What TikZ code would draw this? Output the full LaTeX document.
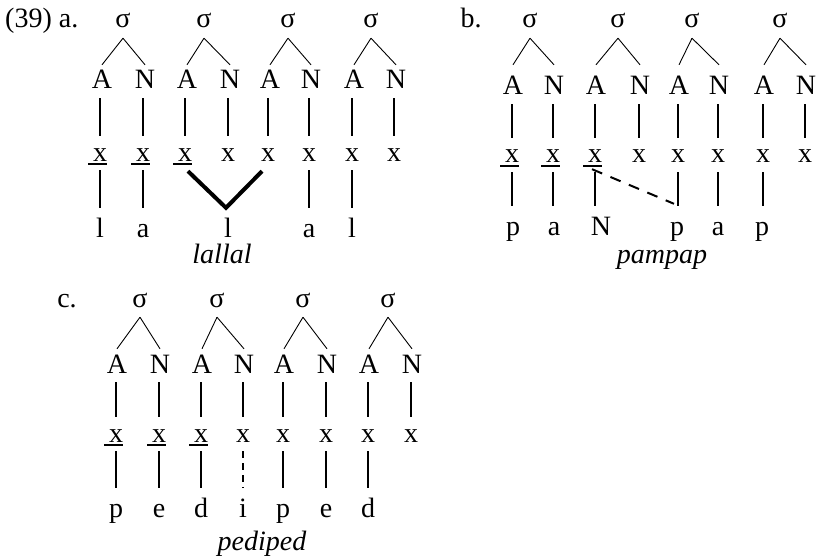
\documentclass[tikz,border=0pt]{standalone}
\usepackage{fontspec}
\setmainfont{Liberation Serif}
\usetikzlibrary{calc}
\begin{document}
\begin{tikzpicture}[x=1pt,y=-1pt,
  every node/.style={inner sep=0pt,anchor=base,font=\fontsize{28}{32}\selectfont},
  sig/.style={text height=14pt,text depth=10pt},
  an/.style={text height=24pt,text depth=9pt},
  anb/.style={text height=30pt,text depth=9pt},
  xx/.style={text height=25pt,text depth=9pt},
  seg/.style={text height=29pt,text depth=5pt},
  word/.style={font=\fontsize{28}{32}\selectfont\itshape},
  tree/.style={line width=0.9pt},
  assoc/.style={line width=2.6pt},
  ul/.style={line width=1.3pt},
  fused/.style={line width=4pt,line join=miter},
  dashb/.style={line width=2pt,dash pattern=on 11pt off 9pt},
  dashc/.style={line width=1.1pt,dash pattern=on 7pt off 5pt}
]
\useasboundingbox (0,0) rectangle (822,559);

% ---------------- panel a ----------------
\node[anchor=base west] (alab) at (5,28) {(39) a.};
\foreach \k/\c in {1/123,2/204,3/288,4/371}
  \node[sig] (aS\k) at (\c,28) {σ};
\foreach \i/\c/\t in {1/100/A,2/143/N,3/185/A,4/228/N,5/268/A,6/309/N,7/352/A,8/394/N}{
  \node[an] (aT\i) at ({\c+2},89) {\t};
  \node[xx] (aX\i) at (\c,161) {x};
  \draw[assoc] (aX\i |- aT\i.south) -- (aX\i.north);
}
\foreach \k/\a/\n in {1/1/2,2/3/4,3/5/6,4/7/8}{
  \draw[tree] (aS\k.south) -- (aT\a.north);
  \draw[tree] (aS\k.south) -- (aT\n.north);
}
\foreach \i in {1,2,3}
  \draw[ul] ($(aX\i.base)+(-12,3)$) -- ($(aX\i.base)+(7,3)$);
\node[seg] (aP1) at (100,237) {l};
\node[seg] (aP2) at (143,237) {a};
\node[seg] (aP3) at (228,237) {l};
\node[seg] (aP4) at (309,237) {a};
\node[seg] (aP5) at (352,237) {l};
\draw[assoc] (aX1.south) -- (aX1.south |- aP1.north);
\draw[assoc] (aX2.south) -- (aX2.south |- aP2.north);
\draw[assoc] (aX6.south) -- (aX6.south |- aP4.north);
\draw[assoc] (aX7.south) -- (aX7.south |- aP5.north);
\draw[fused] ($(aX3.south)+(3,1)$) -- ($(aP3.north)+(-2,0)$) -- ($(aX5.south)+(-6,1)$);
\node[word] (aW) at (222,263) {lallal};

% ---------------- panel b ----------------
\node (blab) at (471,28) {b.};
\foreach \k/\c in {1/530,2/618,3/692,4/780}
  \node[sig] (bS\k) at (\c,28) {σ};
\foreach \i/\c/\t in {1/512/A,2/553/N,3/595/A,4/639/N,5/678/A,6/718/N,7/763/A,8/805/N}{
  \node[anb] (bT\i) at ({\c+1},95) {\t};
  \node[xx] (bX\i) at (\c,163) {x};
  \draw[assoc] (bX\i |- bT\i.south) -- (bX\i.north);
}
\foreach \k/\a/\n in {1/1/2,2/3/4,3/5/6,4/7/8}{
  \draw[tree] (bS\k.south) -- (bT\a.north);
  \draw[tree] (bS\k.south) -- (bT\n.north);
}
\foreach \i in {1,2,3}
  \draw[ul] ($(bX\i.base)+(-12,3)$) -- ($(bX\i.base)+(7,3)$);
\node[seg] (bP1) at (513,235) {p};
\node[seg] (bP2) at (554,235) {a};
\node[seg] (bP3) at (601,235) {N};
\node[seg] (bP4) at (677,235) {p};
\node[seg] (bP5) at (718,235) {a};
\node[seg] (bP6) at (762,235) {p};
\draw[assoc] (bX1.south) -- (bX1.south |- bP1.north);
\draw[assoc] (bX2.south) -- (bX2.south |- bP2.north);
\draw[assoc] (bX3.south) -- (bX3.south |- bP3.north);
\draw[assoc] (bX5.south) -- (bX5.south |- bP4.north);
\draw[assoc] (bX6.south) -- (bX6.south |- bP5.north);
\draw[assoc] (bX7.south) -- (bX7.south |- bP6.north);
\draw[dashb] ($(bX3.south)+(-3,-3)$) -- ($(bX5.south |- bP4.north)+(-4,-2)$);
\node[word] (bW) at (662,263) {pampap};

% ---------------- panel c ----------------
\node (clab) at (67,307) {c.};
\foreach \k/\c in {1/140,2/217,3/303,4/388}
  \node[sig] (cS\k) at (\c,307) {σ};
\foreach \i/\c/\t in {1/116/A,2/159/N,3/201/A,4/243/N,5/283/A,6/326/N,7/368/A,8/411/N}{
  \node[an] (cT\i) at ({\c+1},373) {\t};
  \node[xx] (cX\i) at (\c,442) {x};
  \draw[assoc] (cX\i |- cT\i.south) -- (cX\i.north);
}
\foreach \k/\a/\n in {1/1/2,2/3/4,3/5/6,4/7/8}{
  \draw[tree] (cS\k.south) -- (cT\a.north);
  \draw[tree] (cS\k.south) -- (cT\n.north);
}
\foreach \i in {1,2,3}
  \draw[ul] ($(cX\i.base)+(-12,3)$) -- ($(cX\i.base)+(7,3)$);
\foreach \i/\c/\t in {1/116/p,2/159/e,3/201/d,4/243/i,5/283/p,6/326/e,7/368/d}
  \node[seg] (cP\i) at (\c,517) {\t};
\foreach \i in {1,2,3,5,6,7}
  \draw[assoc] (cX\i.south) -- (cX\i.south |- cP\i.north);
\draw[dashc] (cX4.south) -- (cX4.south |- cP4.north);
\node[word] (cW) at (262,550) {pediped};
\end{tikzpicture}
\end{document}
